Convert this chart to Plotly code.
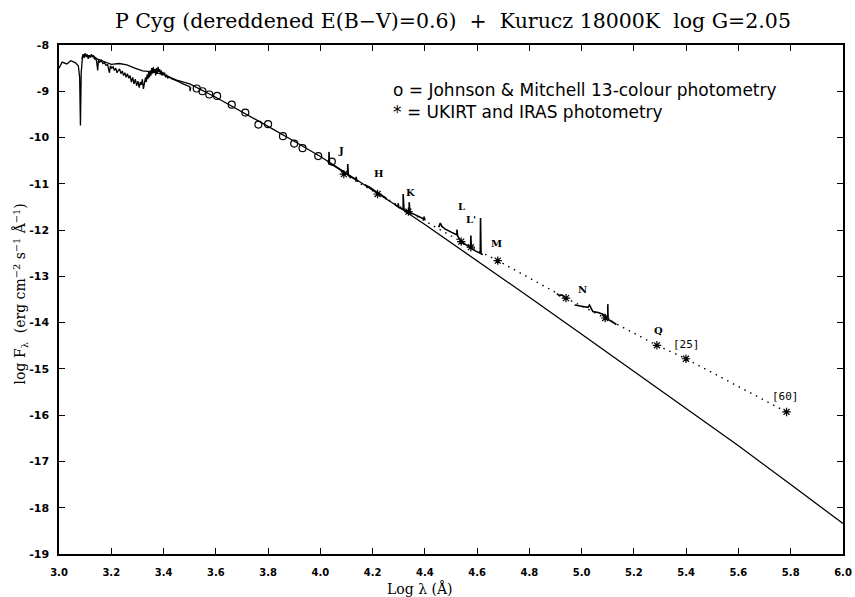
import plotly.graph_objects as go

# ---- Kurucz model (solid line) ----
model_x = [3.000, 3.012, 3.030, 3.045, 3.062, 3.074, 3.079, 3.082, 3.085, 3.090, 3.100, 3.115,
           3.130, 3.145, 3.160, 3.180, 3.200, 3.230, 3.260, 3.290, 3.320, 3.360, 3.400, 3.450,
           3.500, 3.600, 3.700, 3.800, 3.900, 4.000, 4.100, 4.200, 4.300, 4.400, 4.500, 4.600,
           4.800, 5.000, 5.200, 5.400, 5.600, 5.800, 6.000]
model_y = [-8.50, -8.37, -8.41, -8.34, -8.38, -8.45, -8.70, -9.74, -8.60, -8.25, -8.20, -8.24,
           -8.23, -8.30, -8.33, -8.38, -8.42, -8.40, -8.43, -8.50, -8.56, -8.58, -8.64, -8.76,
           -8.84, -9.13, -9.44, -9.76, -10.08, -10.41, -10.77, -11.13, -11.50, -11.88, -12.27, -12.66,
           -13.45, -14.25, -15.05, -15.86, -16.66, -17.50, -18.34]

# ---- observed UV spectrum (noisy) ----
uv_x = [3.088, 3.092, 3.096, 3.100, 3.104, 3.108, 3.112, 3.116, 3.120, 3.124, 3.128, 3.132,
        3.136, 3.140, 3.144, 3.148, 3.151, 3.156, 3.162, 3.168, 3.174, 3.180, 3.186, 3.190,
        3.193, 3.197, 3.202, 3.207, 3.212, 3.217, 3.222, 3.227, 3.232, 3.237, 3.242, 3.247,
        3.252, 3.257, 3.262, 3.267, 3.272, 3.277, 3.282, 3.287, 3.292, 3.297, 3.302, 3.307,
        3.311, 3.315, 3.319, 3.323, 3.327, 3.331, 3.334, 3.337, 3.340, 3.343, 3.346, 3.349,
        3.352, 3.355, 3.358, 3.361, 3.364, 3.367, 3.370, 3.373, 3.376, 3.379, 3.382, 3.385,
        3.388, 3.391, 3.394, 3.397, 3.400, 3.404, 3.408, 3.412, 3.416, 3.420, 3.425, 3.430,
        3.440, 3.450, 3.460, 3.470, 3.480, 3.490, 3.500, 3.502, 3.504]
uv_y = [-8.30, -8.20, -8.28, -8.18, -8.26, -8.21, -8.30, -8.22, -8.27, -8.20, -8.26, -8.23,
        -8.31, -8.27, -8.36, -8.55, -8.33, -8.37, -8.33, -8.40, -8.38, -8.44, -8.42, -8.50,
        -8.60, -8.45, -8.50, -8.47, -8.55, -8.50, -8.60, -8.55, -8.52, -8.62, -8.56, -8.66,
        -8.60, -8.70, -8.62, -8.72, -8.66, -8.80, -8.70, -8.84, -8.74, -8.88, -8.78, -8.92,
        -8.80, -8.86, -8.74, -8.95, -8.82, -8.70, -8.80, -8.64, -8.74, -8.58, -8.70, -8.55,
        -8.66, -8.50, -8.62, -8.48, -8.60, -8.52, -8.66, -8.50, -8.62, -8.47, -8.58, -8.52,
        -8.63, -8.55, -8.66, -8.58, -8.64, -8.60, -8.70, -8.64, -8.72, -8.68, -8.71, -8.73,
        -8.75, -8.77, -8.80, -8.83, -8.85, -8.88, -8.90, -9.00, -8.91]

# ---- observed IR spectra (solid segments) ----
j_x = [4.030, 4.033, 4.033, 4.035, 4.050, 4.070, 4.090, 4.104, 4.105, 4.107, 4.120, 4.136, 4.137, 4.139, 4.145]
j_y = [-10.50, -10.58, -10.31, -10.56, -10.60, -10.67, -10.74, -10.80, -10.57, -10.82, -10.86, -10.91, -10.85, -10.93, -10.95]
h_x = [4.170, 4.190, 4.210, 4.225, 4.240, 4.250, 4.253]
h_y = [-11.02, -11.08, -11.16, -11.21, -11.26, -11.30, -11.34]
k_x = [4.285, 4.298, 4.298, 4.300, 4.317, 4.317, 4.320, 4.335, 4.340, 4.340, 4.343, 4.360, 4.380, 4.396, 4.397, 4.401]
k_y = [-11.45, -11.50, -11.42, -11.51, -11.55, -11.22, -11.56, -11.60, -11.62, -11.40, -11.62, -11.66, -11.71, -11.76, -11.71, -11.79]
l_x = [4.453, 4.459, 4.465, 4.478, 4.503, 4.522, 4.523, 4.525, 4.539, 4.555, 4.575, 4.576, 4.578, 4.593, 4.612, 4.613, 4.615, 4.622]
l_y = [-11.94, -11.85, -11.92, -11.98, -12.05, -12.10, -11.99, -12.12, -12.25, -12.30, -12.38, -12.12, -12.40, -12.45, -12.50, -11.74, -12.51, -12.53]
n1_x = [4.905, 4.915, 4.925, 4.935, 4.945]
n1_y = [-13.37, -13.42, -13.40, -13.46, -13.48]
n2_x = [4.973, 4.990, 5.005, 5.024, 5.030, 5.043, 5.063, 5.081, 5.100, 5.100, 5.101, 5.114, 5.133]
n2_y = [-13.62, -13.63, -13.65, -13.67, -13.62, -13.76, -13.78, -13.82, -13.88, -13.60, -13.93, -13.97, -14.04]

# ---- photometry ----
jm_x = [3.527, 3.549, 3.575, 3.605, 3.661, 3.713, 3.763, 3.800, 3.857, 3.900, 3.932, 3.992, 4.044]
jm_y = [-8.94, -9.00, -9.07, -9.10, -9.29, -9.46, -9.72, -9.71, -9.97, -10.13, -10.23, -10.40, -10.52]
ir_x = [4.090, 4.219, 4.337, 4.539, 4.576, 4.679, 4.940, 5.090, 5.288, 5.399, 5.784]
ir_y = [-10.79, -11.22, -11.60, -12.25, -12.37, -12.66, -13.47, -13.90, -14.49, -14.78, -15.93]

# ---- band labels ----
band_names = ["J", "H", "K", "L", "L'", "M", "N", "Q"]
band_x = [4.078, 4.221, 4.345, 4.542, 4.576, 4.676, 5.004, 5.293]
band_y = [-10.28, -10.78, -11.18, -11.49, -11.78, -12.29, -13.28, -14.18]
iras_names = ["[25]", "[60]"]
iras_x = [5.403, 5.781]
iras_y = [-14.47, -15.59]

x_ticks = [3.0, 3.2, 3.4, 3.6, 3.8, 4.0, 4.2, 4.4, 4.6, 4.8, 5.0, 5.2, 5.4, 5.6, 5.8, 6.0]
x_ticklabels = ["3.0", "3.2", "3.4", "3.6", "3.8", "4.0", "4.2", "4.4", "4.6", "4.8",
                "5.0", "5.2", "5.4", "5.6", "5.8", "6.0"]
y_ticks = [-8, -9, -10, -11, -12, -13, -14, -15, -16, -17, -18, -19]
y_ticklabels = ["-8", "-9", "-10", "-11", "-12", "-13", "-14", "-15", "-16", "-17", "-18", "-19"]


def join(*segs):
    xs, ys = [], []
    for sx, sy in segs:
        xs += list(sx) + [None]
        ys += list(sy) + [None]
    return xs, ys


fig = go.Figure()
fig.add_trace(go.Scatter(x=model_x, y=model_y, mode="lines",
                         line=dict(color="black", width=1.3)))
fig.add_trace(go.Scatter(x=uv_x, y=uv_y, mode="lines",
                         line=dict(color="black", width=1.3)))
sx, sy = join((j_x, j_y), (h_x, h_y), (k_x, k_y), (l_x, l_y), (n1_x, n1_y), (n2_x, n2_y))
fig.add_trace(go.Scatter(x=sx, y=sy, mode="lines", connectgaps=False,
                         line=dict(color="black", width=1.6)))
fig.add_trace(go.Scatter(x=ir_x, y=ir_y, mode="lines",
                         line=dict(color="black", width=1.4, dash="1.5px,5px")))
fig.add_trace(go.Scatter(x=ir_x, y=ir_y, mode="markers",
                         marker=dict(symbol="asterisk-open", size=7, color="black",
                                     line=dict(color="black", width=1.2))))
fig.add_trace(go.Scatter(x=jm_x, y=jm_y, mode="markers",
                         marker=dict(symbol="circle-open", size=7, color="black",
                                     line=dict(color="black", width=1.2))))

for name, bx, by in zip(band_names, band_x, band_y):
    fig.add_annotation(x=bx, y=by, text=name, showarrow=False,
                       font=dict(family="DejaVu Serif", size=10, color="black", weight="bold"))
for name, bx, by in zip(iras_names, iras_x, iras_y):
    fig.add_annotation(x=bx, y=by, text=name, showarrow=False,
                       font=dict(family="DejaVu Sans Mono", size=11, color="black"))

fig.add_annotation(x=4.27, y=-8.98, xanchor="left", text="o = Johnson & Mitchell 13-colour photometry",
                   showarrow=False, font=dict(family="DejaVu Sans", size=17, color="black"))
fig.add_annotation(x=4.27, y=-9.45, xanchor="left", text="* = UKIRT and IRAS photometry",
                   showarrow=False, font=dict(family="DejaVu Sans", size=17, color="black"))

fig.add_annotation(xref="paper", yref="paper", x=0.502, y=1.0, yshift=24, xanchor="center",
                   yanchor="middle", showarrow=False,
                   text="P Cyg (dereddened E(B\u2212V)=0.6)\u00a0\u00a0+\u00a0\u00a0Kurucz 18000K\u00a0\u00a0log G=2.05",
                   font=dict(family="DejaVu Serif", size=20.5, color="black"))
fig.add_annotation(xref="paper", yref="paper", x=0.46, y=0, yshift=-34, xanchor="center",
                   yanchor="middle", showarrow=False, text="Log \u03bb (\u00c5)",
                   font=dict(family="DejaVu Serif", size=14, color="black"))
fig.add_annotation(xref="paper", yref="paper", x=0, xshift=-38, y=0.51, xanchor="center",
                   yanchor="middle", showarrow=False, textangle=-90,
                   text="log F<sub>\u03bb</sub>\u00a0\u00a0(erg cm<sup>\u22122</sup> s<sup>\u22121</sup> \u00c5<sup>\u22121</sup>)",
                   font=dict(family="DejaVu Serif", size=14, color="black"))

axis_common = dict(showgrid=False, zeroline=False, showline=True, linecolor="black", linewidth=1.5,
                   mirror="ticks", ticks="inside", ticklen=6, tickwidth=1, tickcolor="black",
                   ticklabeloverflow="allow")
fig.update_xaxes(range=[3.0, 6.0], tickvals=x_ticks, ticktext=x_ticklabels,
                 ticklabelstandoff=8,
                 tickfont=dict(family="DejaVu Sans", size=10, color="black", weight="bold"),
                 **axis_common)
fig.update_yaxes(range=[-19, -8], tickvals=y_ticks, ticktext=y_ticklabels,
                 ticklabelstandoff=6,
                 tickfont=dict(family="DejaVu Sans", size=11, color="black", weight="bold"),
                 **axis_common)

fig.update_layout(width=855, height=597, showlegend=False,
                  margin=dict(l=59, r=3, t=45, b=43),
                  paper_bgcolor="white", plot_bgcolor="white")

fig.write_html("out.html",
               config={"displayModeBar": False},
               post_script="document.body.style.margin='0';document.body.style.overflow='hidden';")
